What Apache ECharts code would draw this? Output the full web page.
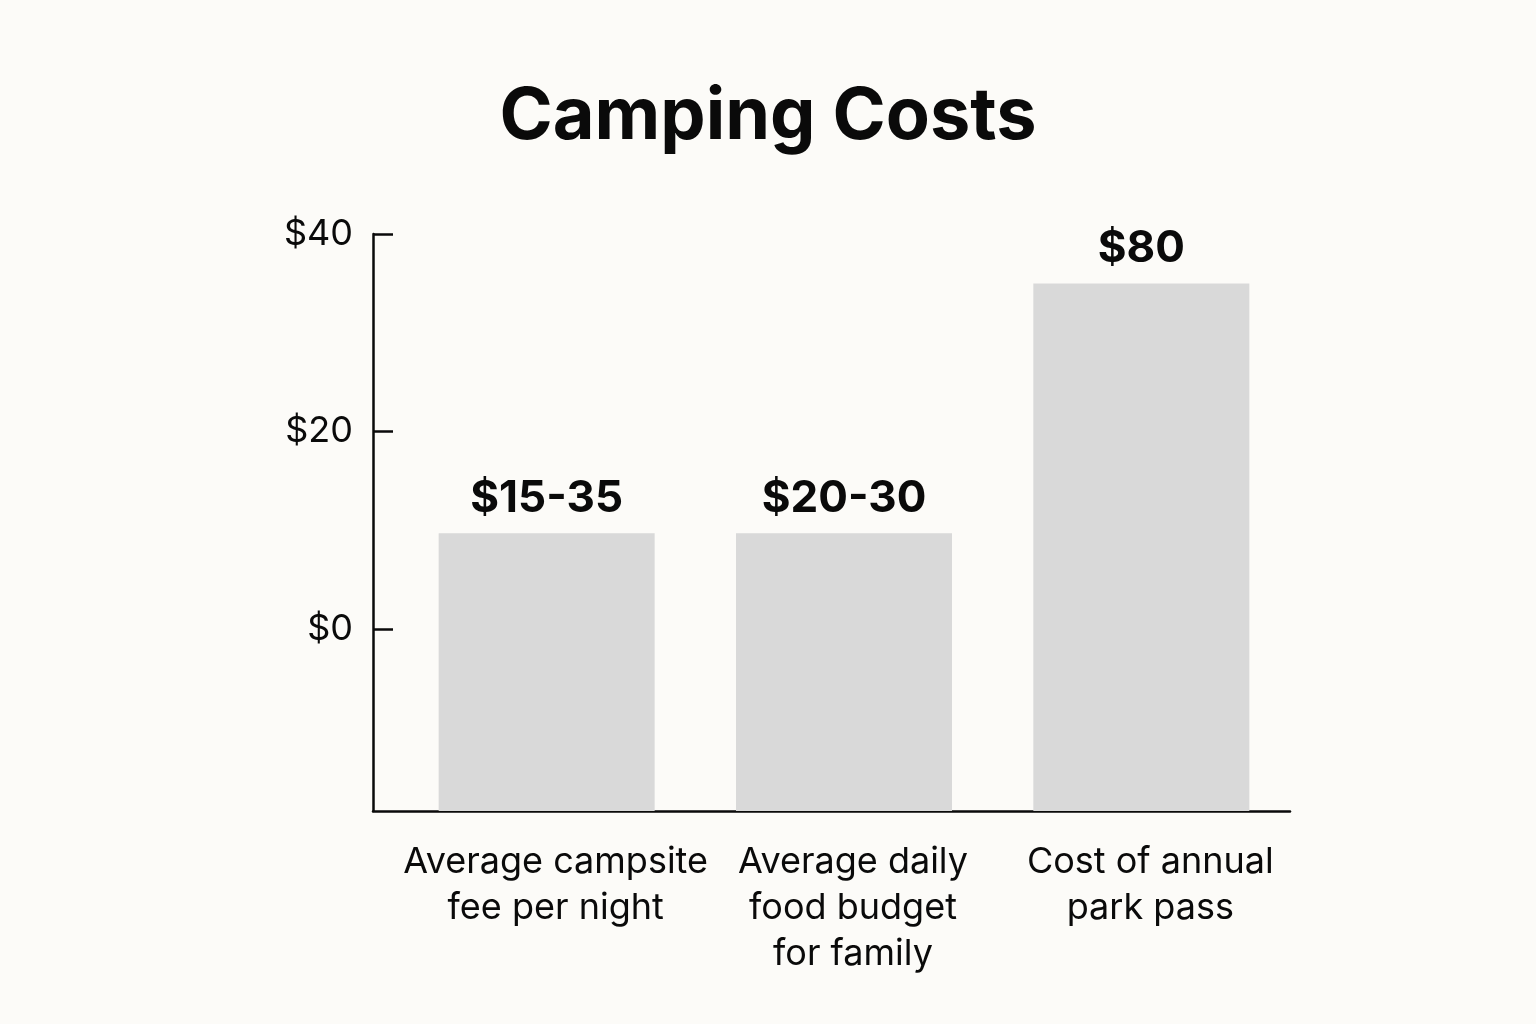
<!DOCTYPE html>
<html>
<head>
<meta charset="utf-8">
<script src="https://cdn.jsdelivr.net/npm/echarts@6/dist/echarts.min.js"></script>
<style>
  html, body { margin: 0; padding: 0; background: #fcfbf8; }
  #chart { width: 1536px; height: 1024px; }
</style>
</head>
<body>
<div id="chart"></div>
<script>
var categories = ['Average campsite\nfee per night', 'Average daily\nfood budget\nfor family', 'Cost of annual\npark pass'];
var costs = [9.7, 9.7, 35];
var costLabels = ['$15-35', '$20-30', '$80'];
var yTicks = [0, 20, 40];
var yMin = -18.4;
var yMax = 40;

var font = 'Inter';
var ink = '#0a0a0a';

var chart = echarts.init(document.getElementById('chart'));
var option = {
    backgroundColor: '#fcfbf8',
    title: {
        text: 'Camping Costs',
        left: 'center',
        top: 76,
        textStyle: {
            fontFamily: font,
            fontWeight: 700,
            fontSize: 72,
            color: ink
        }
    },
    // grid 0 draws the axis frame, grid 1 holds the bars and category labels
    grid: [
        {left: 373, right: 246, top: 234, bottom: 213},
        {left: 398, right: 246, top: 234, bottom: 213}
    ],
    xAxis: [
        {
            type: 'category',
            gridIndex: 0,
            data: categories,
            axisLine: {onZero: false, lineStyle: {color: ink, width: 2.5}},
            axisTick: {show: false},
            axisLabel: {show: false}
        },
        {
            type: 'category',
            gridIndex: 1,
            data: categories,
            axisLine: {show: false},
            axisTick: {show: false},
            axisLabel: {
                color: ink,
                fontFamily: font,
                fontSize: 36,
                lineHeight: 46,
                margin: 28,
                interval: 0,
                padding: [0, 0, 0, 18]
            }
        }
    ],
    yAxis: [
        {
            type: 'value',
            gridIndex: 0,
            min: yMin,
            max: yMax,
            splitLine: {show: false},
            axisLine: {show: true, lineStyle: {color: ink, width: 2.5}},
            axisTick: {
                show: true,
                inside: true,
                length: 20,
                customValues: yTicks,
                lineStyle: {color: ink, width: 2.5}
            },
            axisLabel: {
                customValues: yTicks,
                color: ink,
                fontFamily: font,
                fontSize: 36,
                margin: 20,
                formatter: function (v) { return '$' + v; }
            }
        },
        {
            type: 'value',
            gridIndex: 1,
            min: yMin,
            max: yMax,
            startValue: yMin,
            show: false,
            splitLine: {show: false}
        }
    ],
    series: [{
        type: 'bar',
        xAxisIndex: 1,
        yAxisIndex: 1,
        data: costs,
        startValue: yMin,
        barWidth: 216,
        itemStyle: {color: '#d9d9d9'},
        label: {
            show: true,
            position: 'top',
            distance: 13,
            color: ink,
            fontFamily: font,
            fontWeight: 700,
            fontSize: 44,
            formatter: function (p) { return costLabels[p.dataIndex]; }
        }
    }]
};
chart.setOption(option);
</script>
</body>
</html>
